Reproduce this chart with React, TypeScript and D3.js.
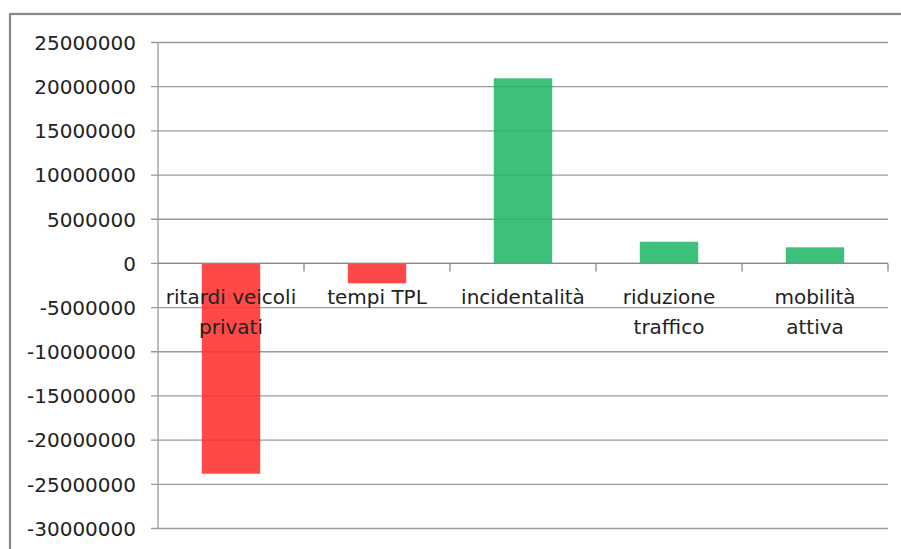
import React from "react";
import * as d3 from "d3";

// Benefit / cost items (euro) for each impact category
const categories = [
  "ritardi veicoli\nprivati",
  "tempi TPL",
  "incidentalità",
  "riduzione\ntraffico",
  "mobilità\nattiva",
];
const values = [-23800000, -2250000, 20950000, 2450000, 1820000];
const yTicks = [25000000, 20000000, 15000000, 10000000, 5000000, 0, -5000000, -10000000, -15000000, -20000000, -25000000, -30000000];

const W = 901;
const H = 549;
const FONT = "DejaVu Sans";

export default function App() {
  const left = 158;
  const right = 888;
  const top = 42.5;
  const bottom = 528.5;

  const x = d3.scaleBand<string>().domain(categories).range([left, right]).paddingInner(0).paddingOuter(0);
  const y = d3.scaleLinear().domain([-30000000, 25000000]).range([bottom, top]);
  const bw = x.bandwidth() / 2.5;
  const y0 = y(0);

  const boundaries = categories.map((c) => (x(c) as number) + x.bandwidth());

  return (
    <svg
      width={W}
      height={H}
      style={{ position: "absolute", left: 0, top: 0, background: "#fff" }}
    >
      <rect x={0} y={0} width={W} height={H} fill="#fff" />
      {/* chart frame */}
      <rect x={10} y={14} width={1200} height={1200} fill="none" stroke="#8a8a8a" strokeWidth={2.2} />

      {/* gridlines */}
      {yTicks.map((t) => (
        <line key={"g" + t} x1={151} x2={right} y1={y(t)} y2={y(t)} stroke="#9a9a9a" strokeWidth={1.3} />
      ))}

      {/* bars */}
      {values.map((v, i) => {
        const cx = (x(categories[i]) as number) + x.bandwidth() / 2;
        const y1 = Math.min(y(v), y0);
        const h = Math.abs(y(v) - y0);
        return (
          <rect
            key={"b" + i}
            x={cx - bw / 2}
            y={y1}
            width={bw}
            height={h}
            fill={v < 0 ? "#ff2f2f" : "#21b768"}
            fillOpacity={0.88}
          />
        );
      })}

      {/* value axis */}
      <line x1={left} x2={left} y1={top} y2={bottom} stroke="#9a9a9a" strokeWidth={1.3} />
      {yTicks.map((t) => (
        <text
          key={"t" + t}
          x={136}
          y={y(t) + 7.3}
          textAnchor="end"
          fontFamily={FONT}
          fontSize={20}
          fill="#222"
        >
          {t}
        </text>
      ))}

      {/* category axis at zero */}
      <line x1={left} x2={right} y1={y0} y2={y0} stroke="#8a8a8a" strokeWidth={1.3} />
      {boundaries.map((bx, i) => (
        <line key={"k" + i} x1={bx} x2={bx} y1={y0} y2={y0 + 8} stroke="#8a8a8a" strokeWidth={1.3} />
      ))}
      {categories.map((c, i) => {
        const cx = (x(c) as number) + x.bandwidth() / 2;
        return c.split("\n").map((line, j) => (
          <text
            key={"c" + i + "-" + j}
            x={cx}
            y={303.5 + j * 30}
            textAnchor="middle"
            fontFamily={FONT}
            fontSize={20}
            fill="#222"
          >
            {line}
          </text>
        ));
      })}
    </svg>
  );
}
